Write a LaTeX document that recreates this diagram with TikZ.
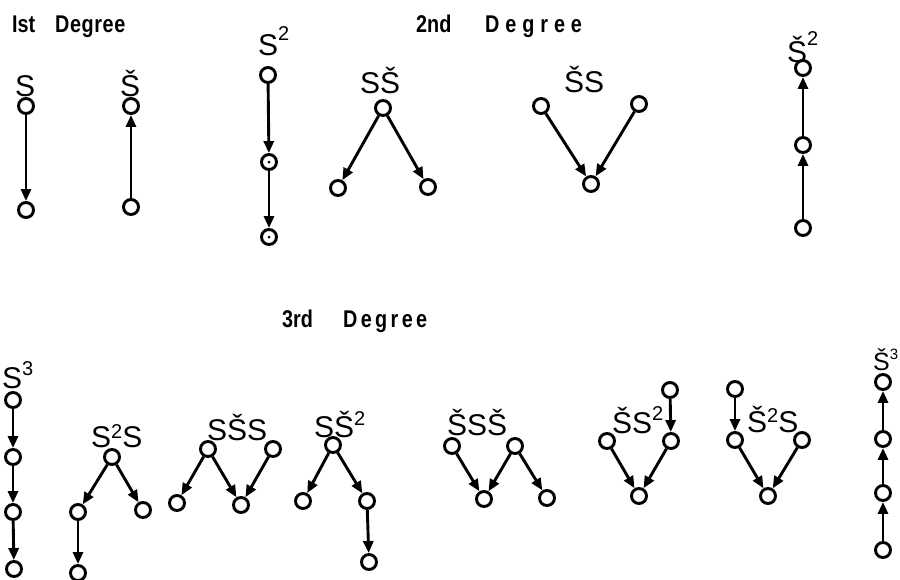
\documentclass[tikz,border=0pt]{standalone}
\usepackage{fontspec}
\setmainfont{Liberation Sans}
\usetikzlibrary{arrows.meta}
\newcommand\myup[2]{\raisebox{#1}{\fontsize{20}{20}\selectfont #2}}
\begin{document}
\begin{tikzpicture}[x=1pt,y=-1pt,
  vtx/.style={circle,draw,line width=2.9pt,minimum size=15pt,inner sep=0pt,fill=white},
  arr/.style={line width=2.9pt,-{Triangle[length=12pt,width=10pt]}},
  lbl/.style={font=\fontsize{30}{30}\selectfont,inner sep=0pt,anchor=base west},
  ttl/.style={font=\fontsize{22}{22}\selectfont\bfseries,inner sep=0pt,anchor=base west}]
\useasboundingbox (0,0) rectangle (900,579);
% titles
\node[ttl] (t1a) at (12,32) {\scalebox{0.9}[1.1]{Ist}};
\node[ttl] (t1b) at (55,32) {\scalebox{0.9}[1.1]{\addfontfeature{LetterSpace=3}Degree}};
\node[ttl] (t2a) at (416,32) {\scalebox{0.9}[1.1]{2nd}};
\node[ttl] (t2b) at (485,32) {\scalebox{0.9}[1.1]{\addfontfeature{LetterSpace=30}Degree}};
\node[ttl] (t3a) at (282,327) {\scalebox{0.9}[1.1]{3rd}};
\node[ttl] (t3b) at (343,327) {\scalebox{0.9}[1.1]{\addfontfeature{LetterSpace=17}Degree}};
% 1st degree
\node[lbl] (lS) at (15,96) {S};
\node[vtx] (a1) at (26,106) {};
\node[vtx] (a2) at (26,210) {};
\draw[arr] (a1) -- (a2);
\node[lbl] (lSc) at (120,96) {Š};
\node[vtx] (b1) at (131,106) {};
\node[vtx] (b2) at (131,207) {};
\draw[arr] (b2) -- (b1);
% 2nd degree
\node[lbl] (lS2) at (258,55) {S\myup{15pt}{2}};
\node[vtx] (c1) at (268,75) {};
\node[vtx] (c2) at (269,162) {};
\node[vtx] (c3) at (269,237) {};
\draw[arr] (c1) -- (c2);
\draw[arr] (c2) -- (c3);
\fill (c2) circle (1.5pt);
\fill (c3) circle (1.5pt);
\node[lbl] (lSSc) at (360,93) {SŠ};
\node[vtx] (d1) at (383,108) {};
\node[vtx] (d2) at (338,188) {};
\node[vtx] (d3) at (428,187) {};
\draw[arr] (d1) -- (d2);
\draw[arr] (d1) -- (d3);
\node[lbl] (lScS) at (564,92) {ŠS};
\node[vtx] (e1) at (541,106) {};
\node[vtx] (e2) at (639,104) {};
\node[vtx] (e3) at (591,184) {};
\draw[arr] (e1) -- (e3);
\draw[arr] (e2) -- (e3);
\node[lbl] (lSc2) at (787,62) {Š\myup{17pt}{2}};
\node[vtx] (f1) at (803,68) {};
\node[vtx] (f2) at (803,145) {};
\node[vtx] (f3) at (803,228) {};
\draw[arr] (f3) -- (f2);
\draw[arr] (f2) -- (f1);
% 3rd degree
\node[lbl] (lS3) at (2,388) {S\myup{13pt}{3}};
\node[vtx] (g1) at (13,400) {};
\node[vtx] (g2) at (13,457) {};
\node[vtx] (g3) at (13,512) {};
\node[vtx] (g4) at (14,569) {};
\draw[arr] (g1) -- (g2);
\draw[arr] (g2) -- (g3);
\draw[arr] (g3) -- (g4);
\node[lbl] (lS2S) at (91,447) {S\myup{9pt}{2}S};
\node[vtx] (h1) at (112,457) {};
\node[vtx] (h2) at (78,512) {};
\node[vtx] (h3) at (143,510) {};
\node[vtx] (h4) at (78,573) {};
\draw[arr] (h1) -- (h2);
\draw[arr] (h1) -- (h3);
\draw[arr] (h2) -- (h4);
\node[lbl] (lSScS) at (207,440) {SŠS};
\node[vtx] (i1) at (208,449) {};
\node[vtx] (i2) at (273,449) {};
\node[vtx] (i3) at (241,505) {};
\node[vtx] (i4) at (177,503) {};
\draw[arr] (i1) -- (i4);
\draw[arr] (i1) -- (i3);
\draw[arr] (i2) -- (i3);
\node[lbl] (lSSc2) at (314,437) {SŠ\myup{12pt}{2}};
\node[vtx] (j1) at (333,445) {};
\node[vtx] (j2) at (303,501) {};
\node[vtx] (j3) at (367,501) {};
\node[vtx] (j4) at (369,562) {};
\draw[arr] (j1) -- (j2);
\draw[arr] (j1) -- (j3);
\draw[arr] (j3) -- (j4);
\node[lbl] (lScSSc) at (447,435) {ŠSŠ};
\node[vtx] (k1) at (452,446) {};
\node[vtx] (k2) at (515,446) {};
\node[vtx] (k3) at (484,499) {};
\node[vtx] (k4) at (547,498) {};
\draw[arr] (k1) -- (k3);
\draw[arr] (k2) -- (k3);
\draw[arr] (k2) -- (k4);
\node[lbl] (lScS2) at (612,433) {ŠS\myup{13pt}{2}};
\node[vtx] (l1) at (607,441) {};
\node[vtx] (l2) at (670,390) {};
\node[vtx] (l3) at (671,441) {};
\node[vtx] (l4) at (639,496) {};
\draw[arr] (l2) -- (l3);
\draw[arr] (l1) -- (l4);
\draw[arr] (l3) -- (l4);
\node[lbl] (lSc2S) at (747,432) {Š\myup{10pt}{2}S};
\node[vtx] (m1) at (735,389) {};
\node[vtx] (m2) at (735,440) {};
\node[vtx] (m3) at (802,440) {};
\node[vtx] (m4) at (768,496) {};
\draw[arr] (m1) -- (m2);
\draw[arr] (m2) -- (m4);
\draw[arr] (m3) -- (m4);
\node[lbl,font=\fontsize{25}{25}\selectfont] (lSc3) at (873,370) {Š\myup{11pt}{\fontsize{15}{15}\selectfont 3}};
\node[vtx] (n1) at (883,382) {};
\node[vtx] (n2) at (883,439) {};
\node[vtx] (n3) at (883,493) {};
\node[vtx] (n4) at (883,550) {};
\draw[arr] (n4) -- (n3);
\draw[arr] (n3) -- (n2);
\draw[arr] (n2) -- (n1);
\end{tikzpicture}
\end{document}
